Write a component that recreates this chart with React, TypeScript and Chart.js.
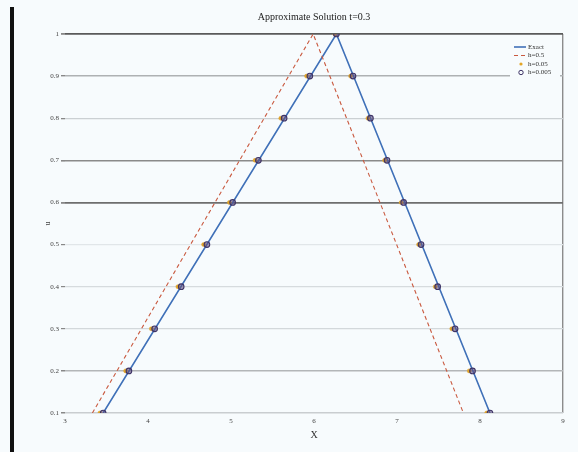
import React, { useEffect, useRef } from "react";
import { Chart, registerables } from "chart.js";

Chart.register(...registerables);

// ---- data ----
const titleText = "Approximate Solution t=0.3";
const seriesLabels = ["Exact", "h=0.5", "h=0.05", "h=0.005"];
const xTickValues = [3, 4, 5, 6, 7, 8, 9];

// Exact solution (triangle)
const exactX = [3.46, 6.27, 8.12];
const exactY = [0.1, 1.0, 0.1];

// h = 0.5 (dashed)
const coarseX = [3.33, 5.99, 7.8];
const coarseY = [0.1, 1.0, 0.1];

// h = 0.05 markers
const mediumX = [3.42, 3.73, 4.04, 4.36, 4.67, 4.98, 5.29, 5.6, 5.91, 6.25, 6.44, 6.65, 6.85, 7.05, 7.26, 7.46, 7.66, 7.87, 8.08];
const mediumY = [0.1, 0.2, 0.3, 0.4, 0.5, 0.6, 0.7, 0.8, 0.9, 1.0, 0.9, 0.8, 0.7, 0.6, 0.5, 0.4, 0.3, 0.2, 0.1];

// h = 0.005 markers
const fineX = [3.46, 3.77, 4.08, 4.4, 4.71, 5.02, 5.33, 5.64, 5.95, 6.27, 6.47, 6.68, 6.88, 7.08, 7.29, 7.49, 7.7, 7.91, 8.12];
const fineY = [0.1, 0.2, 0.3, 0.4, 0.5, 0.6, 0.7, 0.8, 0.9, 1.0, 0.9, 0.8, 0.7, 0.6, 0.5, 0.4, 0.3, 0.2, 0.1];

const toPts = (xs: number[], ys: number[]) => xs.map((x, i) => ({ x, y: ys[i] }));

const BG = "#f7fbfd";
const SERIF = "'Liberation Serif', 'DejaVu Serif', serif";

// gridline colours, bottom (0.1) to top (1.0)
const gridColors = ["#c9cdd0", "#b3b6b8", "#d3d8db", "#d6dbde", "#e1e6e9", "#6e6e6e", "#8a8a8a", "#cbd0d3", "#aeb1b3", "#5a5a5a"];
const gridWidths = [1.5, 1.5, 1.2, 1.2, 1.2, 1.8, 1.6, 1.3, 1.4, 1.8];

const legendPlugin = {
  id: "customLegend",
  afterDraw(chart: any) {
    const ctx = chart.ctx;
    ctx.save();
    ctx.fillStyle = BG;
    ctx.fillRect(510, 40, 50, 40);
    const ys = [47, 55.5, 64, 72.5];
    ctx.font = `7px ${SERIF}`;
    ctx.textBaseline = "middle";
    ctx.textAlign = "left";
    chart.data.datasets.forEach((ds: any, i: number) => {
      const y = ys[i];
      if (i === 0 || i === 1) {
        ctx.beginPath();
        ctx.strokeStyle = ds.borderColor;
        ctx.lineWidth = ds.borderWidth;
        ctx.setLineDash(ds.borderDash || []);
        ctx.moveTo(514, y);
        ctx.lineTo(526, y);
        ctx.stroke();
        ctx.setLineDash([]);
      } else if (i === 2) {
        ctx.fillStyle = ds.pointBackgroundColor;
        ctx.beginPath();
        ctx.arc(521, y, 1.6, 0, Math.PI * 2);
        ctx.fill();
      } else {
        ctx.strokeStyle = ds.pointBorderColor;
        ctx.lineWidth = 1;
        ctx.beginPath();
        ctx.arc(521, y, 2.2, 0, Math.PI * 2);
        ctx.stroke();
      }
      ctx.fillStyle = "#333";
      ctx.fillText(ds.label, 528, y);
    });
    ctx.restore();
  },
};

export default function App() {
  const ref = useRef<HTMLCanvasElement | null>(null);

  useEffect(() => {
    if (!ref.current) return;
    const chart = new Chart(ref.current, {
      type: "scatter",
      data: {
        datasets: [
          {
            label: seriesLabels[0],
            data: toPts(exactX, exactY),
            showLine: true,
            borderColor: "#3f70b8",
            borderWidth: 1.6,
            pointRadius: 0,
            order: 4,
          },
          {
            label: seriesLabels[1],
            data: toPts(coarseX, coarseY),
            showLine: true,
            borderColor: "#c9593f",
            borderWidth: 1.1,
            borderDash: [4, 3],
            pointRadius: 0,
            order: 3,
          },
          {
            label: seriesLabels[2],
            data: toPts(mediumX, mediumY),
            showLine: false,
            pointRadius: 2,
            pointBackgroundColor: "#e3a526",
            pointBorderColor: "#d9a030",
            pointBorderWidth: 0.5,
            order: 2,
          },
          {
            label: seriesLabels[3],
            data: toPts(fineX, fineY),
            showLine: false,
            pointRadius: 2.8,
            pointBackgroundColor: "rgba(95,75,125,0.55)",
            pointBorderColor: "#3e3466",
            pointBorderWidth: 1.1,
            order: 1,
          },
        ],
      },
      options: {
        animation: false,
        responsive: false,
        layout: { padding: { left: 0, right: 15, top: 0, bottom: 0 } },
        plugins: {
          legend: { display: false },
          tooltip: { enabled: false },
          title: {
            display: true,
            text: titleText,
            fullSize: false,
            color: "#222",
            font: { family: SERIF, size: 10, weight: "normal" },
            padding: { top: 11, bottom: 11 },
          },
        },
        scales: {
          x: {
            type: "linear",
            min: 3,
            max: 9,
            afterBuildTicks: (s: any) => {
              s.ticks = xTickValues.map((v) => ({ value: v }));
            },
            afterFit: (s: any) => {
              s.height = 39;
            },
            border: { display: false },
            grid: {
              drawTicks: false,
              color: (c: any) => (c.tick && c.tick.value === 9 ? "#8c8c8c" : "rgba(0,0,0,0)"),
              lineWidth: 1.4,
            },
            ticks: {
              padding: 4,
              color: "#444",
              font: { family: SERIF, size: 7 },
              callback: (v: any) => String(v),
            },
            title: {
              display: true,
              text: "X",
              color: "#333",
              font: { family: SERIF, size: 10 },
              padding: { top: 0, bottom: 11 },
            },
          },
          y: {
            type: "linear",
            min: 0.1,
            max: 1,
            afterFit: (s: any) => {
              s.width = 65;
            },
            border: { display: false },
            grid: {
              color: (c: any) => gridColors[c.index] ?? "#ccc",
              lineWidth: (c: any) => gridWidths[c.index] ?? 1,
              tickColor: "#888",
              tickLength: 4,
            },
            ticks: {
              stepSize: 0.1,
              padding: 2,
              color: "#444",
              font: { family: SERIF, size: 7 },
              callback: (v: any) => String(Number(Number(v).toFixed(1))),
            },
            title: {
              display: true,
              text: "u",
              color: "#444",
              font: { family: SERIF, size: 8 },
              padding: { top: 43, bottom: 0 },
            },
          },
        },
      },
      plugins: [legendPlugin],
    } as any);
    return () => chart.destroy();
  }, []);

  return (
    <div style={{ position: "absolute", left: 0, top: 0, width: 578, height: 452, background: BG, overflow: "hidden" }}>
      <canvas ref={ref} width={578} height={452} style={{ display: "block" }} />
      <div style={{ position: "absolute", left: 10, top: 7, width: 4, height: 445, background: "#111" }} />
    </div>
  );
}
